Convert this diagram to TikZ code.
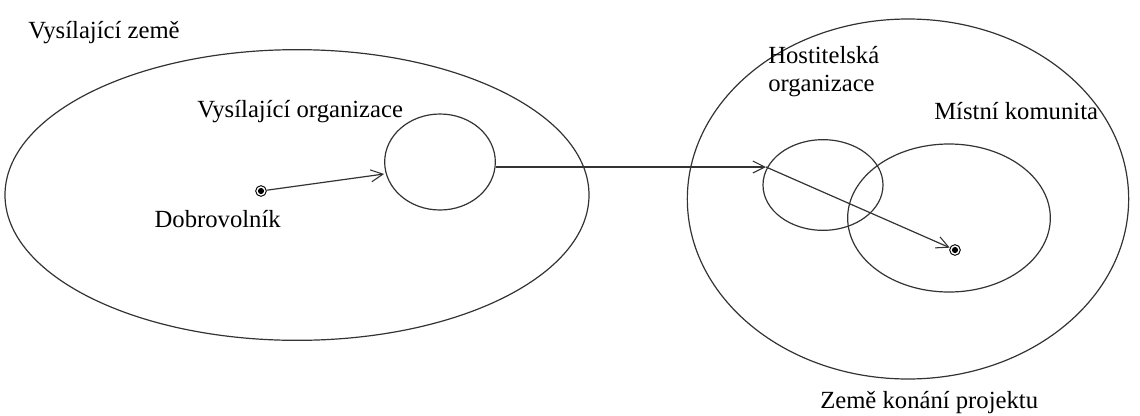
\documentclass[tikz,border=0pt]{standalone}
\usepackage{fontspec}
\setmainfont{Liberation Serif}
\usetikzlibrary{arrows.meta,shapes.geometric}
\tikzset{
  ln/.style={line width=0.9pt,black!80},
  ar/.style={ln,-{Straight Barb[length=9pt,width=9pt,line width=0.8pt]}},
  oval/.style={ellipse,draw,line width=0.9pt,black!80,inner sep=0pt},
  pnt/.style={circle,draw,line width=0.7pt,minimum size=8pt,inner sep=0pt,
    path picture={\fill (path picture bounding box.center) circle (2.3pt);}},
  lbl/.style={font=\fontsize{18.5}{21}\selectfont,inner sep=0pt}
}

\begin{document}
\begin{tikzpicture}[x=0.75pt,y=-0.75pt]
\useasboundingbox (0,0) rectangle (1140,415);
% sending side
\node[oval,minimum width=438pt,minimum height=218pt] (sendc) at (297,195) {};
\node[oval,minimum width=83pt,minimum height=72pt] (sorg) at (440,162) {};
\node[pnt] (vol) at (261,191) {};
\node[lbl,anchor=base west] (sendct) at (28,38) {Vysílající země};
\node[lbl,anchor=base west] (sorgt) at (197,117) {Vysílající organizace};
\node[lbl,anchor=base east] (volt) at (281,227) {Dobrovolník};
% host side
\node[oval,minimum width=331pt,minimum height=270pt] (hostc) at (908,199) {};
\node[oval,minimum width=90pt,minimum height=68pt] (horg) at (823,185) {};
\node[oval,minimum width=152pt,minimum height=111pt] (comm) at (949,218) {};
\node[pnt] (dest) at (955,250) {};
\node[lbl,anchor=base west,align=left] (horgt) at (768,91) {Hostitelská\\organizace};
\node[lbl,anchor=base west] (commt) at (934,119) {Místní komunita};
\node[lbl,anchor=base west] (hostct) at (820,408) {Země konání projektu};
% path of the volunteer
\coordinate (entry) at (766,167);
\draw[ar] (vol) -- (sorg.west |- 0,174);
\draw[ar] (sorg.east |- entry) -- (entry);
\draw[ar] (entry) -- (dest);
\end{tikzpicture}
\end{document}
